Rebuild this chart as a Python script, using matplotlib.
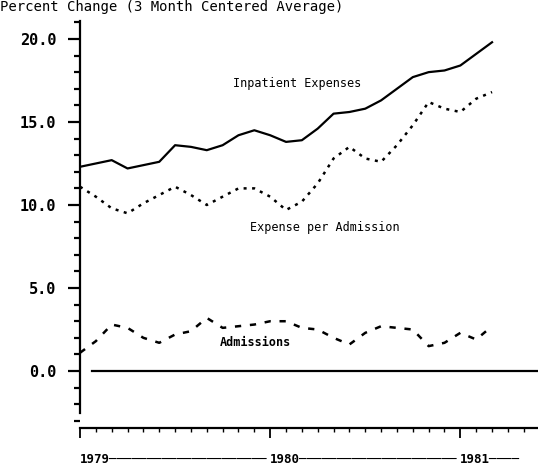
import numpy as np
import matplotlib.pyplot as plt
from matplotlib.ticker import MultipleLocator, FixedLocator

# monthly data, Jan 1979 .. Mar 1981
months = np.arange(27)
inpatient = [12.3, 12.5, 12.7, 12.2, 12.4, 12.6, 13.6, 13.5, 13.3, 13.6, 14.2, 14.5,
             14.2, 13.8, 13.9, 14.6, 15.5, 15.6, 15.8, 16.3, 17.0, 17.7, 18.0, 18.1,
             18.4, 19.1, 19.8]
per_admission = [11.1, 10.5, 9.8, 9.5, 10.1, 10.6, 11.1, 10.6, 10.0, 10.5, 11.0, 11.0,
                 10.5, 9.7, 10.2, 11.3, 12.8, 13.5, 12.8, 12.6, 13.6, 14.8, 16.2, 15.8,
                 15.6, 16.4, 16.8]
admissions = [1.1, 1.8, 2.8, 2.6, 2.0, 1.7, 2.2, 2.4, 3.2, 2.6, 2.7, 2.8,
              3.0, 3.0, 2.6, 2.5, 2.0, 1.6, 2.3, 2.7, 2.6, 2.5, 1.5, 1.7,
              2.3, 1.9, 2.7]
year_ticks = [0, 12, 24]
year_labels = ["1979", "1980", "1981"]

mono = "DejaVu Sans Mono"
fig = plt.figure(figsize=(5.38, 4.67), dpi=100)
ax = fig.add_axes([80/538, 39/467, 1 - 80/538, (428-20)/467])

ax.plot(months, inpatient, color="black", lw=1.6)
ax.plot(months, per_admission, color="black", lw=1.8, linestyle=(0, (1.2, 2.2)))
ax.plot(months, admissions, color="black", lw=1.8, linestyle=(0, (2.5, 3.5)))
ax.axhline(0, xmin=0.026, color="black", lw=1.6)

ax.set_xlim(0, 28.9)
ax.set_ylim(-3.43, 21.14)

for s in ["top", "right"]:
    ax.spines[s].set_visible(False)
ax.spines["left"].set_bounds(-2.5, 21.1)
ax.spines["left"].set_linewidth(1.6)
ax.spines["bottom"].set_linewidth(1.6)

ax.yaxis.set_major_locator(FixedLocator([0, 5, 10, 15, 20]))
ax.yaxis.set_minor_locator(MultipleLocator(1))
ax.set_yticklabels(["0.0", "5.0", "10.0", "15.0", "20.0"], fontfamily=mono,
                   fontweight="bold", fontsize=11)
ax.tick_params(axis="y", which="major", length=9, width=1.6, pad=8)
ax.tick_params(axis="y", which="minor", length=4, width=1.6)

ax.xaxis.set_major_locator(FixedLocator(year_ticks))
ax.xaxis.set_minor_locator(MultipleLocator(1))
dash = "\u2500"
ax.set_xticklabels([year_labels[0] + dash * 21, year_labels[1] + dash * 21,
                    year_labels[2] + dash * 4], fontfamily=mono,
                   fontweight="bold", fontsize=9, ha="left")
ax.tick_params(axis="x", which="major", length=7, width=1.3, pad=11)
ax.tick_params(axis="x", which="minor", length=3, width=1.0)

# label positions in pixels from the bottom-left corner
ax.text(297, 384, "Inpatient Expenses", transform=None, fontfamily=mono, fontsize=8.5,
        ha="center", va="center")
ax.text(325, 239, "Expense per Admission", transform=None, fontfamily=mono, fontsize=8.5,
        ha="center", va="center")
ax.text(255, 124, "Admissions", transform=None, fontfamily=mono, fontsize=8.5,
        fontweight="bold", ha="center", va="center")

fig.text(0.0, 1.0, "Percent Change (3 Month Centered Average)", fontfamily=mono,
         fontsize=10, ha="left", va="top")

fig.savefig("out.png", dpi=100)
